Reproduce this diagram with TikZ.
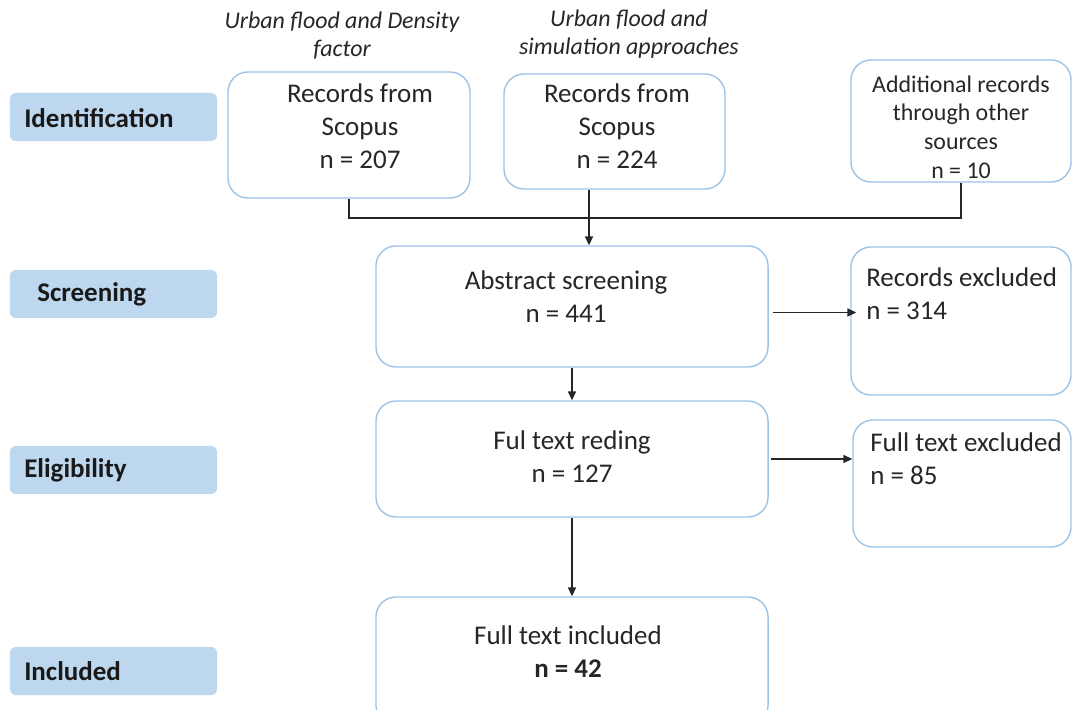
\documentclass[tikz,border=0pt]{standalone}
\usepackage{fontspec}
\setmainfont{Carlito}
\usetikzlibrary{arrows.meta,positioning}
\definecolor{boxline}{HTML}{9DC3E6}
\definecolor{stagefill}{HTML}{BDD7EE}
\tikzset{
  box/.style={draw=boxline, line width=1pt, rounded corners=0.5cm, inner sep=0pt},
  stage/.style={fill=stagefill, rounded corners=0.15cm, minimum width=5.175cm, minimum height=1.2cm, inner sep=0pt},
  stagetxt/.style={anchor=west, inner sep=0pt, font=\fontsize{19.2}{23.5}\selectfont\bfseries, text=black!90},
  txt/.style={align=center, inner sep=0pt, font=\fontsize{19.2}{23.5}\selectfont, text=black!85},
  smalltxt/.style={align=center, inner sep=0pt, font=\fontsize{17}{20.3}\selectfont, text=black!85},
  head/.style={smalltxt, font=\fontsize{17}{20}\selectfont\itshape},
  arr/.style={-{Triangle[length=2.2mm,width=2mm]}, line width=0.8pt, black!85},
  con/.style={line width=0.8pt, black!85}}
\begin{document}
\begin{tikzpicture}[x=0.025cm, y=-0.025cm]
  \useasboundingbox (0,0) rectangle (1072,710);
  % stages on the left
  \node[stage] (sid) at (113.5,117) {};
  \node[stage] (sscr) at (113.5,294) {};
  \node[stage] (selig) at (113.5,470) {};
  \node[stage] (sinc) at (113.5,671) {};
  \node[stagetxt] (tid) at (24,118) {Identification};
  \node[stagetxt] (tscr) at (37,294) {Screening};
  \node[stagetxt] (telig) at (24,470) {Eligibility};
  \node[stagetxt] (tinc) at (24,671) {Included};
  % search headings
  \node[head] (h1) at (342,36) {Urban flood and Density\\factor};
  \node[head] (h2) at (629,34) {Urban flood and\\simulation approaches};
  % boxes
  \node[box, minimum width=6.05cm, minimum height=3.15cm] (rec1) at (349,135) {};
  \node[box, minimum width=5.525cm, minimum height=2.875cm] (rec2) at (614.5,131.5) {};
  \node[box, minimum width=5.5cm, minimum height=3.05cm] (rec3) at (961,121) {};
  \node[box, minimum width=9.8cm, minimum height=3.025cm] (scr) at (572,306.5) {};
  \node[box, minimum width=5.5cm, minimum height=3.7cm] (exc1) at (961,321) {};
  \node[box, minimum width=9.8cm, minimum height=2.9cm] (full) at (572,459) {};
  \node[box, minimum width=5.45cm, minimum height=3.175cm] (exc2) at (962,483.5) {};
  \node[box, minimum width=9.8cm, minimum height=3.2cm] (inc) at (572,661) {};
  % box texts
  \node[txt] (trec1) at (360,126) {Records from\\Scopus\\n = 207};
  \node[txt] (trec2) at (617,126) {Records from\\Scopus\\n = 224};
  \node[smalltxt] (trec3) at (961,127) {Additional records\\through other\\sources\\n = 10};
  \node[txt] (tscrb) at (566,297) {Abstract screening\\n = 441};
  \node[txt, align=left, anchor=west] (texc1) at (866,294) {Records excluded\\n = 314};
  \node[txt] (tfull) at (572,457) {Ful text reding\\n = 127};
  \node[txt, align=left, anchor=west] (texc2) at (870,459) {Full text excluded\\n = 85};
  \node[txt] (tinc2) at (568,652) {Full text included\\\textbf{n = 42}};
  % connectors
  \coordinate (jn) at (589,218);
  \draw[con] (rec1.south) |- (jn);
  \draw[con] (rec3.south) |- (jn);
  \draw[arr] (rec2.south -| jn) -- (jn |- scr.north);
  \draw[arr] ([xshift=0.1cm,yshift=-0.15cm]scr.east) -- ([xshift=0.15cm,yshift=-0.15cm]scr.east -| exc1.west);
  \draw[arr] ([xshift=0.05cm]full.east) -- (exc2.west |- full.east);
  \draw[arr] (scr.south) -- (full.north);
  \draw[arr] (full.south) -- (inc.north);
\end{tikzpicture}
\end{document}
